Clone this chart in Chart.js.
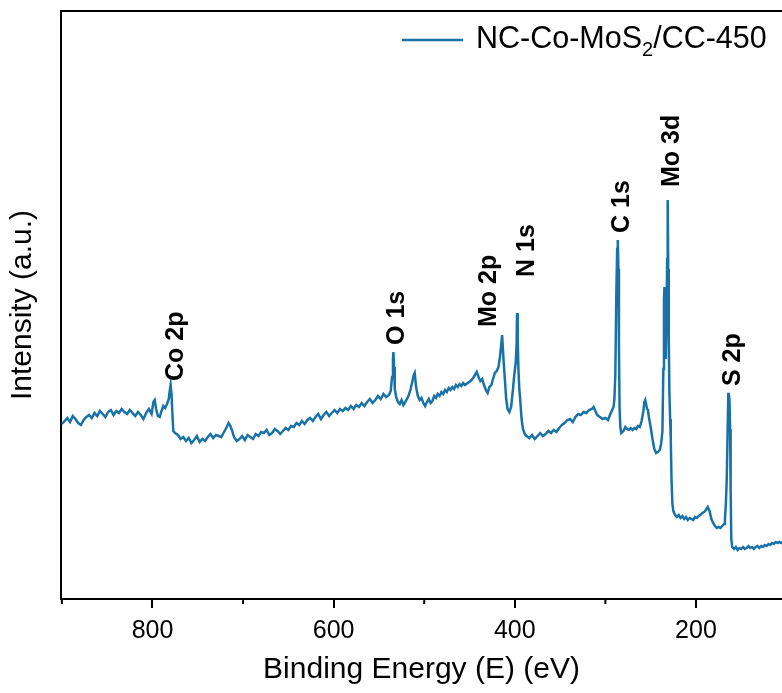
<!DOCTYPE html>
<html>
<head>
<meta charset="utf-8">
<script src="https://cdn.jsdelivr.net/npm/chart.js@4"></script>
<style>
  body { margin: 0; background: #fff; }
</style>
</head>
<body>
<canvas id="myChart" width="782" height="693"></canvas>
<script>
// XPS survey (binding energy in eV, intensity in a.u.)
const energy = [
  900, 897, 894, 891, 888, 885, 882, 879, 876, 873, 870, 867, 864, 861, 858, 855, 852, 849, 846, 843,
  840, 837, 834, 831, 828, 825, 822, 819, 816, 813, 810, 807, 804, 801, 799, 797.5, 796, 794, 792, 790,
  788, 786, 784, 782, 781, 780, 779, 778, 777, 775, 772, 769, 766, 763, 760, 757, 754, 751, 748, 745,
  742, 739, 736, 733, 730, 727, 724, 721, 718, 716, 714, 712, 710, 707, 704, 701, 698, 695, 692, 689,
  686, 683, 680, 677, 674, 671, 668, 665, 662, 659, 656, 653, 650, 647, 644, 641, 638, 635, 632, 629,
  626, 623, 620, 617, 614, 611, 608, 605, 602, 599, 596, 593, 590, 587, 584, 581, 578, 575, 572, 569,
  566, 563, 560, 557, 554, 551, 548, 545, 542, 539, 537, 535.5, 534.5, 534, 533.3, 532.5, 531, 529, 527, 525,
  523, 521, 519, 517, 515, 513, 511.5, 510.5, 509, 507, 505, 503, 501, 499, 497, 495, 493, 491, 489, 487,
  485, 483, 481, 479, 477, 475, 473, 471, 469, 467, 465, 463, 461, 459, 457, 455, 452, 449, 446, 444,
  442, 440, 438, 436, 434, 432, 430, 428, 426, 424, 422, 420, 418, 416, 414, 412.5, 411, 409.5, 408, 406,
  404, 402, 400.5, 399, 398, 397.5, 396.8, 396, 395, 394, 392.5, 391, 389, 387, 384, 381, 378, 375, 372, 369,
  366, 363, 360, 357, 354, 351, 348, 345, 342, 339, 336, 333, 330, 327, 324, 321, 318, 315, 313, 311,
  309, 306, 303, 300, 297, 295, 293, 291, 290, 289, 288, 287, 286.3, 285.6, 285, 284.3, 283.5, 282.5, 280, 278,
  276, 274, 272, 270, 268, 266, 264, 262, 260, 258, 257, 256, 255, 254, 253, 252, 250, 249, 248, 246,
  244, 242, 240, 238.5, 237, 236, 235.3, 234.8, 234, 233.3, 232.5, 231.8, 231.2, 230.6, 230, 229.3, 228.5, 227.8, 227, 226,
  225, 223, 221, 219, 217, 215, 213, 211, 209, 207, 205, 203, 201, 199, 197, 195, 193, 191, 189, 187,
  185, 183, 181, 179, 177, 175, 173, 171, 169, 168, 167, 166, 165, 164.3, 163.8, 163, 162.3, 161.7, 161, 160,
  158, 156, 154, 152, 150, 148, 146, 144, 142, 140, 138, 136, 134, 132, 130, 128, 126, 124, 122, 120,
  118, 116, 114, 112, 110, 108, 106, 104
];
const intensity = [
  175, 178, 181, 177, 183, 180, 176, 174, 179, 182, 184, 181, 186, 183, 188, 185, 182, 187, 189, 184,
  188, 186, 190, 187, 185, 189, 186, 183, 187, 184, 180, 186, 190, 185, 197, 199, 190, 183, 182, 188,
  193, 191, 195, 200, 208, 214, 205, 185, 168, 166, 164, 160, 162, 158, 161, 156, 159, 163, 157, 160,
  158, 162, 165, 161, 164, 163, 162, 167, 172, 176, 173, 168, 162, 158, 160, 163, 159, 164, 162, 160,
  165, 163, 167, 166, 169, 164, 166, 170, 168, 165, 168, 171, 169, 173, 172, 176, 174, 178, 175, 179,
  181, 178, 182, 185, 180, 184, 187, 183, 186, 189, 186, 190, 188, 191, 189, 193, 190, 194, 192, 196,
  193, 197, 200, 196, 199, 203, 200, 205, 202, 204, 208, 222, 240, 247, 232, 210, 202, 197, 195, 199,
  194, 197, 200, 204, 210, 218, 224, 226, 212, 203, 199, 201, 196, 193, 197, 200, 196, 198, 203, 201,
  205, 203, 207, 205, 209, 207, 211, 209, 212, 210, 214, 212, 215, 213, 216, 214, 216, 218, 221, 224,
  227, 222, 218, 220, 214, 209, 206, 212, 214, 220, 226, 228, 232, 245, 264, 240, 220, 200, 190, 187,
  192, 210, 225, 236, 255, 286, 260, 230, 210, 199, 180, 170, 165, 163, 161, 164, 160, 163, 166, 163,
  165, 168, 166, 169, 167, 171, 174, 176, 179, 180, 177, 182, 185, 184, 187, 186, 189, 190, 192, 188,
  184, 182, 180, 181, 179, 184, 188, 192, 200, 225, 300, 350, 359, 330, 250, 190, 172, 166, 168, 172,
  170, 169, 171, 169, 171, 170, 173, 172, 178, 188, 197, 199, 195, 190, 189, 182, 172, 166, 160, 150,
  146, 147, 149, 155, 168, 230, 300, 312, 290, 240, 280, 340, 399, 330, 260, 206, 180, 160, 120, 95,
  88, 84, 82, 84, 81, 83, 80, 82, 79, 81, 80, 79, 82, 81, 83, 84, 86, 87, 89, 92,
  88, 80, 76, 73, 71, 72, 71, 73, 75, 80, 95, 120, 170, 205, 206, 199, 170, 110, 60, 52,
  50, 52, 49, 51, 50, 52, 50, 51, 53, 51, 52, 50, 52, 53, 51, 53, 52, 54, 53, 55,
  54, 56, 55, 57, 56, 57, 56, 57
];
const majorTicks = [800, 600, 400, 200];
const minorTicks = [900, 700, 500, 300];
const peakNames = ['Co 2p', 'O 1s', 'Mo 2p', 'N 1s', 'C 1s', 'Mo 3d', 'S 2p'];
const peakAtEnergy = [774.4, 529.8, 428.4, 386.5, 281.8, 226.7, 159.5];
const peakAtIntensity = [218, 254, 272, 322, 366, 412, 213];

const lineColor = '#1872a8';
const fontName = '"Liberation Sans", Arial, sans-serif';
const ctx = document.getElementById('myChart').getContext('2d');

// frame top line, minor ticks, peak labels and the legend
const extras = {
  id: 'extras',
  afterDraw(chart) {
    const c = chart.ctx;
    const a = chart.chartArea;
    const xs = chart.scales.x;
    const ys = chart.scales.y;
    c.save();
    c.strokeStyle = '#000';
    c.lineWidth = 2;
    c.beginPath();
    c.moveTo(a.left - 1, a.top);
    c.lineTo(a.right, a.top);
    c.stroke();
    minorTicks.forEach(function(v) {
      const x = xs.getPixelForValue(v);
      c.beginPath();
      c.moveTo(x, a.bottom);
      c.lineTo(x, a.bottom + 5);
      c.stroke();
    });

    c.fillStyle = '#000';
    c.font = 'bold 25px ' + fontName;
    c.textAlign = 'left';
    c.textBaseline = 'middle';
    peakNames.forEach(function(name, i) {
      c.save();
      c.translate(xs.getPixelForValue(peakAtEnergy[i]), ys.getPixelForValue(peakAtIntensity[i]));
      c.rotate(-Math.PI / 2);
      c.fillText(name, 0, 0);
      c.restore();
    });

    // legend
    const ly = a.top + 29;
    const lx = a.right - 380;
    c.strokeStyle = lineColor;
    c.lineWidth = 2.5;
    c.beginPath();
    c.moveTo(lx, ly);
    c.lineTo(lx + 61, ly);
    c.stroke();
    c.font = '30.5px ' + fontName;
    let tx = lx + 74;
    c.fillText('NC-Co-MoS', tx, ly);
    tx += c.measureText('NC-Co-MoS').width;
    c.font = '20px ' + fontName;
    c.fillText('2', tx, ly + 10);
    tx += c.measureText('2').width;
    c.font = '30.5px ' + fontName;
    c.fillText('/CC-450', tx, ly);
    c.restore();
  }
};

const chart = new Chart(ctx, {
  type: 'line',
  data: {
    datasets: [{
      label: 'NC-Co-MoS2/CC-450',
      data: energy.map(function(e, i) { return { x: e, y: intensity[i] }; }),
      borderColor: lineColor,
      backgroundColor: lineColor,
      borderWidth: 2.5,
      pointRadius: 0,
      tension: 0
    }]
  },
  options: {
    responsive: false,
    animation: false,
    devicePixelRatio: 1,
    layout: { padding: { top: 11, right: 0, left: 0, bottom: 0 } },
    plugins: {
      legend: { display: false },
      tooltip: { enabled: false }
    },
    scales: {
      x: {
        type: 'linear',
        reverse: true,
        min: 105,
        max: 901,
        afterBuildTicks: function(scale) {
          scale.ticks = majorTicks.map(function(v) { return { value: v }; });
        },
        afterFit: function(scale) { scale.height = 94; },
        ticks: {
          color: '#000',
          font: { family: fontName, size: 25 },
          padding: 8,
          maxRotation: 0
        },
        grid: {
          drawOnChartArea: false,
          drawTicks: true,
          tickLength: 9,
          color: '#000',
          lineWidth: 2
        },
        border: { display: true, color: '#000', width: 2 },
        title: {
          display: true,
          text: 'Binding Energy (E) (eV)',
          color: '#000',
          font: { family: fontName, size: 30 },
          padding: { top: 0, bottom: 5 }
        }
      },
      y: {
        min: 0,
        max: 588,
        afterFit: function(scale) { scale.width = 61; },
        ticks: { display: false },
        grid: { display: false },
        border: { display: true, color: '#000', width: 2 },
        title: {
          display: true,
          text: 'Intensity (a.u.)',
          color: '#000',
          font: { family: fontName, size: 30 },
          padding: { top: 5, bottom: 0 }
        }
      }
    }
  },
  plugins: [extras]
});
</script>
</body>
</html>
